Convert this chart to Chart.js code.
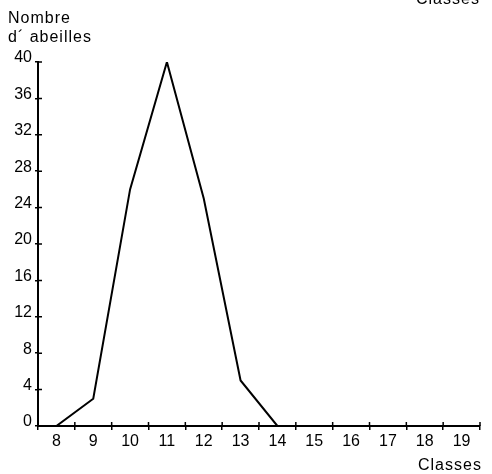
<!DOCTYPE html>
<html>
<head>
<meta charset="utf-8">
<script src="https://cdn.jsdelivr.net/npm/chart.js@4/dist/chart.umd.min.js"></script>
<style>
  body { margin: 0; background: #fff; }
  #wrap { position: relative; width: 492px; height: 474px; }
  .lbl { position: absolute; font-family: "Liberation Sans", Arial, sans-serif; font-size: 16px; color: #000; line-height: 19px; letter-spacing: 1px; }
</style>
</head>
<body>
<div id="wrap">
  <canvas id="myChart" width="492" height="474"></canvas>
  <div class="lbl" style="left:8px; top:8px;">Nombre<br>d´ abeilles</div>
  <div class="lbl" style="left:416px; top:-11px;">Classes</div>
  <div class="lbl" style="left:418px; top:455px;">Classes</div>
</div>
<script>
// classes de l'axe horizontal
const classes = ["8", "9", "10", "11", "12", "13", "14", "15", "16", "17", "18", "19"];
// nombre d'abeilles par classe (rien au-dela de 14)
const abeilles = [0, 3, 26, 40, 25, 5, 0, null, null, null, null, null];
const yMin = 0;
const yMax = 40;
const yStep = 4;

// petits traits de part et d'autre de l'axe
const crossTicks = {
  id: "crossTicks",
  afterDraw(chart) {
    const ctx = chart.ctx;
    const x = chart.scales.x;
    const y = chart.scales.y;
    const area = chart.chartArea;
    ctx.save();
    ctx.strokeStyle = "#000";
    ctx.lineWidth = 1.5;
    ctx.beginPath();
    const half = (x.getPixelForValue(1) - x.getPixelForValue(0)) / 2;
    for (let i = 0; i < classes.length; i++) {
      const px = x.getPixelForValue(i) + half;
      ctx.moveTo(px, area.bottom - 4);
      ctx.lineTo(px, area.bottom);
    }
    for (let v = yMin + yStep; v <= yMax; v += yStep) {
      const py = y.getPixelForValue(v);
      ctx.moveTo(area.left, py);
      ctx.lineTo(area.left + 4, py);
    }
    ctx.stroke();
    ctx.restore();
  }
};

const ctx = document.getElementById("myChart").getContext("2d");
new Chart(ctx, {
  type: "line",
  data: {
    labels: classes,
    datasets: [
      {
        data: abeilles,
        borderColor: "#000",
        borderWidth: 2,
        pointRadius: 0,
        tension: 0,
        spanGaps: false,
      },
    ],
  },
  options: {
    responsive: false,
    animation: false,
    layout: { padding: { left: 0, right: 12, top: 62, bottom: 0 } },
    plugins: { legend: { display: false }, tooltip: { enabled: false } },
    scales: {
      x: {
        offset: true,
        grid: {
          offset: true,
          drawOnChartArea: false,
          color: "#000",
          lineWidth: 1.5,
          tickLength: 4,
        },
        border: { color: "#000", width: 2 },
        ticks: {
          color: "#000",
          padding: 2,
          maxRotation: 0,
          autoSkip: false,
          font: { family: "Liberation Sans", size: 16 },
        },
        afterFit(scale) {
          scale.height = 48;
        },
      },
      y: {
        min: yMin,
        max: yMax,
        grid: {
          drawOnChartArea: false,
          color: "#000",
          lineWidth: 1.5,
          tickLength: 3,
        },
        border: { color: "#000", width: 2 },
        ticks: {
          stepSize: yStep,
          color: "#000",
          padding: 3,
          labelOffset: -4,
          font: { family: "Liberation Sans", size: 16 },
        },
        afterFit(scale) {
          scale.width = 38;
        },
      },
    },
  },
  plugins: [crossTicks],
});
</script>
</body>
</html>
